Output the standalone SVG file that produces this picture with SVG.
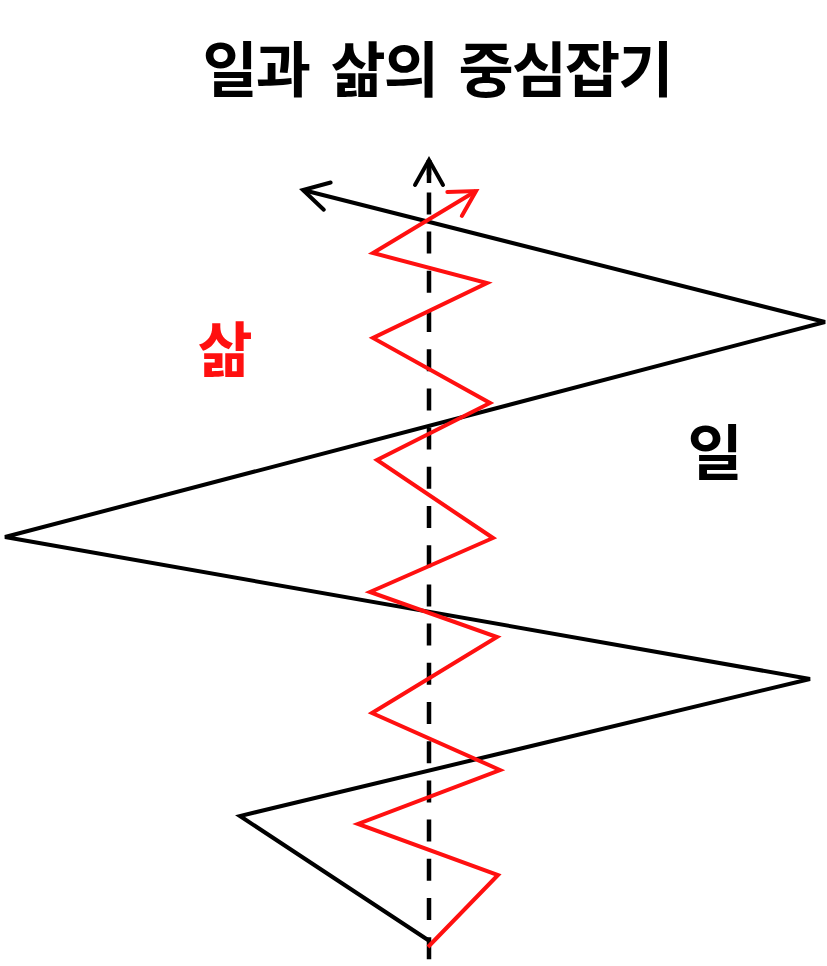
<svg xmlns="http://www.w3.org/2000/svg" width="827" height="966" viewBox="0 0 827 966">
  <style>
    .title { font-family: "Noto Sans CJK KR", "Noto Sans", sans-serif; font-weight: bold; font-size: 60px; fill: #000; text-anchor: middle; letter-spacing: -2px; word-spacing: 10px; }
    .lbl { font-family: "Noto Sans CJK KR", "Noto Sans", sans-serif; font-weight: bold; font-size: 60px; text-anchor: middle; }
    .work { fill: none; stroke: #000; stroke-width: 4; stroke-linejoin: miter; }
    .life { fill: none; stroke: #ff1010; stroke-width: 4; stroke-linejoin: miter; }
    .axis { fill: none; stroke: #000; stroke-width: 4.5; stroke-dasharray: 22 17.2; stroke-dashoffset: 32.4; }
  </style>
  <defs>
    <marker id="arrK" markerUnits="userSpaceOnUse" viewBox="-30 -18 34 36" refX="0" refY="0" markerWidth="34" markerHeight="36" orient="auto" overflow="visible">
      <path d="M -25 -14 L 0 0 L -25 14" fill="none" stroke="#000" stroke-width="4" stroke-linecap="round" stroke-linejoin="miter"/>
    </marker>
    <marker id="arrR" markerUnits="userSpaceOnUse" viewBox="-30 -18 34 36" refX="0" refY="0" markerWidth="34" markerHeight="36" orient="auto" overflow="visible">
      <path d="M -25 -14 L 0 0 L -25 14" fill="none" stroke="#ff1010" stroke-width="4" stroke-linecap="round" stroke-linejoin="miter"/>
    </marker>
  </defs>

  <g id="title">
    <text class="title" x="437" y="92">일과 삶의 중심잡기</text>
  </g>

  <g id="connectors">
    <g id="center-axis">
      <path class="axis" d="M 429 966 L 429 160"/>
      <path d="M 429 183 L 429 160" fill="none" stroke="#000" stroke-width="4.5" marker-end="url(#arrK)"/>
    </g>
    <g id="work-line">
      <polyline class="work" points="428,940 240,816 810,679 5,537 825,322 303,190" marker-end="url(#arrK)"/>
    </g>
    <g id="life-line">
      <polyline class="life" points="428,947 498,875 358,824 500,770 372,713 497,637 370,592 493,538 377,460 490,403 373,338 487,283 373,253 476,191" marker-end="url(#arrR)"/>
    </g>
  </g>

  <g id="label-life">
    <text class="lbl" x="225" y="372" fill="#ff1010">삶</text>
  </g>
  <g id="label-work">
    <text class="lbl" x="715" y="475" fill="#000">일</text>
  </g>
</svg>
